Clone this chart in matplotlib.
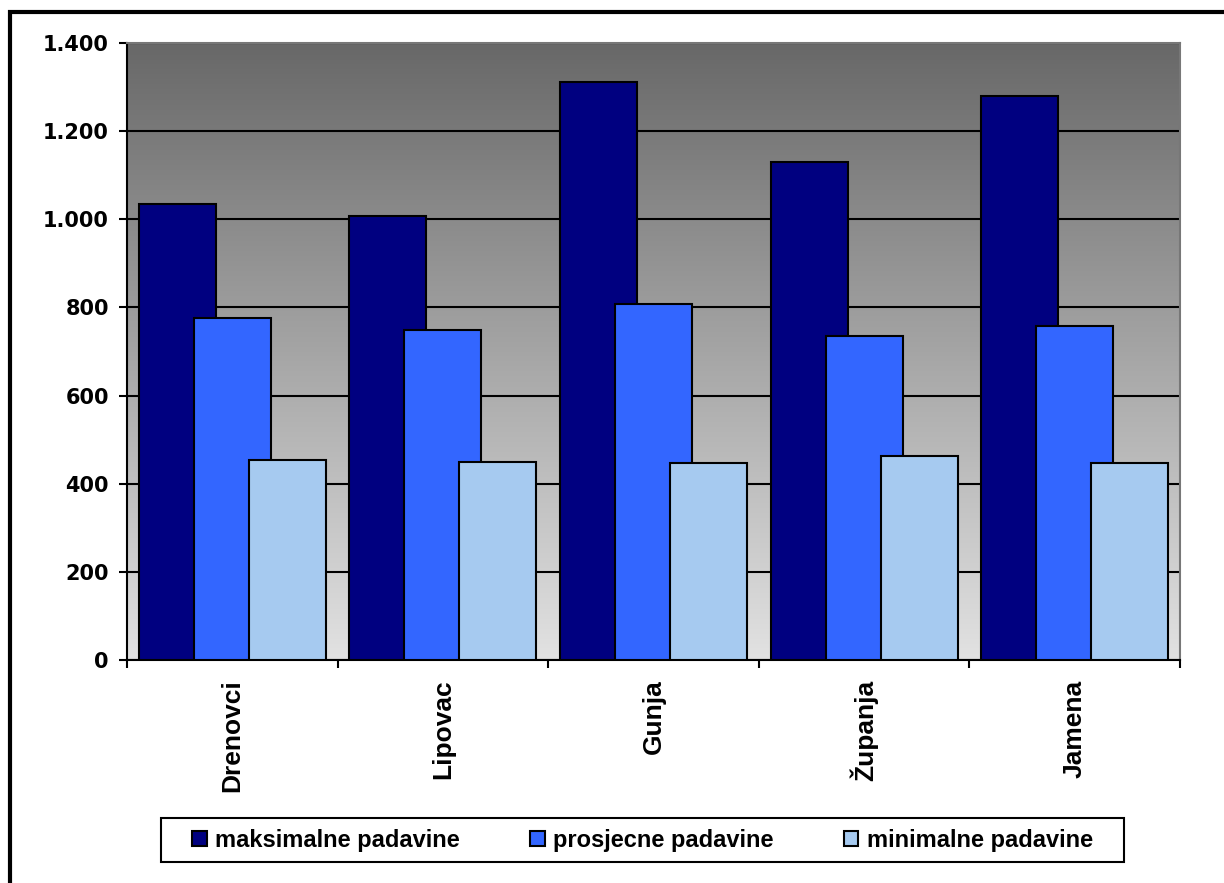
import matplotlib.pyplot as plt
import numpy as np
from matplotlib.patches import Rectangle

# podaci
mjesta = ['Drenovci', 'Lipovac', 'Gunja', 'Županja', 'Jamena']
maksimalne = [1035, 1008, 1312, 1130, 1280]
prosjecne = [776, 749, 808, 735, 758]
minimalne = [454, 450, 446, 463, 446]

plt.rcParams['font.family'] = ['Liberation Sans', 'DejaVu Sans']
plt.rcParams['font.weight'] = 'bold'

fig = plt.figure(figsize=(12.24, 8.83), dpi=100)
ax = fig.add_axes([127/1224, 1 - 660/883, (1180-127)/1224, (660-43)/883])

# okvir oko slike
fig.patches.append(Rectangle((10/1224, -0.1), 1.2, 1 - 12/883 + 0.1, transform=fig.transFigure,
                             fill=False, edgecolor='black', linewidth=3))

# gradijent pozadine
grad = np.linspace(0, 1, 256).reshape(-1, 1)
ax.imshow(grad, cmap=plt.matplotlib.colors.LinearSegmentedColormap.from_list('g', ['#e2e2e2', '#686868']),
          extent=[-0.5, len(mjesta) - 0.5, 0, 1400], aspect='auto', origin='lower', zorder=0)

x = np.arange(len(mjesta))
sirina = 0.366
razmak = 0.261
ax.bar(x - razmak, maksimalne, sirina, color='#000080', edgecolor='black', linewidth=1.5,
       label='maksimalne padavine', zorder=3)
ax.bar(x, prosjecne, sirina, color='#3366ff', edgecolor='black', linewidth=1.5,
       label='prosjecne padavine', zorder=4)
ax.bar(x + razmak, minimalne, sirina, color='#a6caf0', edgecolor='black', linewidth=1.5,
       label='minimalne padavine', zorder=5)

ax.set_xlim(-0.5, len(mjesta) - 0.5)
ax.set_ylim(0, 1400)
ax.set_yticks(range(0, 1401, 200))
ax.set_yticklabels(['0', '200', '400', '600', '800', '1.000', '1.200', '1.400'],
                   fontsize=15, fontweight='bold', family='DejaVu Sans')
ax.grid(axis='y', color='black', linewidth=1.5, zorder=1)
ax.set_axisbelow(True)

ax.set_xticks(np.arange(-0.5, len(mjesta), 1))
ax.set_xticklabels([])
ax.set_xticks(x, minor=True)
ax.set_xticklabels(mjesta, minor=True, rotation=90, fontsize=19, fontweight='bold')
ax.tick_params(axis='x', which='minor', length=0, pad=14)
ax.tick_params(axis='both', which='major', length=6, width=1.5, direction='out')
ax.tick_params(axis='y', pad=7)

for s in ['left', 'bottom']:
    ax.spines[s].set_linewidth(1.5)
for s in ['top', 'right']:
    ax.spines[s].set_color('#777777')
    ax.spines[s].set_linewidth(1.5)

# legenda
leg = fig.legend(loc='center', bbox_to_anchor=((161 + 1124) / 2 / 1224, 1 - 840/883),
                 ncol=3, frameon=False, handlelength=0.6, handleheight=0.6,
                 handletextpad=0.35, columnspacing=3.0, borderaxespad=0,
                 prop={'weight': 'bold', 'size': 17})
fig.patches.append(Rectangle((161/1224, 1 - 862/883), (1124-161)/1224, 44/883,
                             transform=fig.transFigure, fill=False, edgecolor='black', linewidth=1.5))

plt.savefig('out.png', dpi=100)
